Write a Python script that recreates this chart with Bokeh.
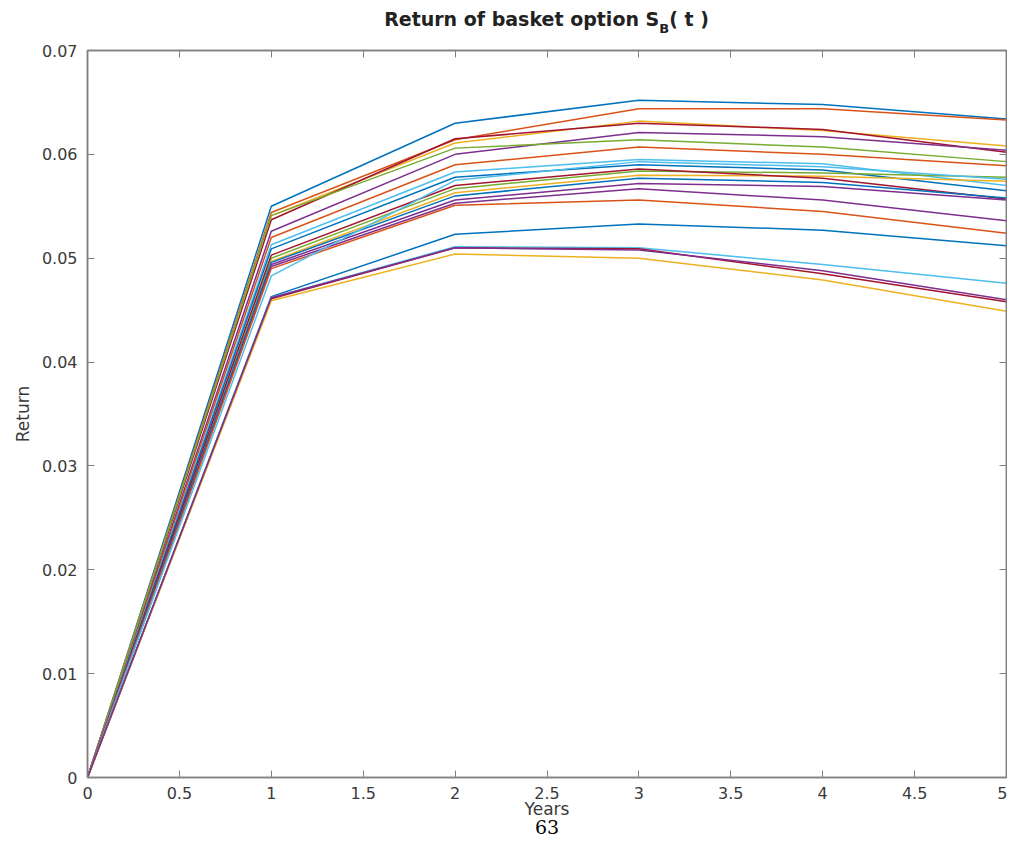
from bokeh.plotting import figure
from bokeh.models import LinearAxis, Range1d, FixedTicker, CustomJSTickFormatter, Title, Div
from bokeh.layouts import column
from bokeh.embed import file_html
from bokeh.resources import INLINE

years = [0, 1, 2, 3, 4, 5]

r01 = [0, 0.0550, 0.0630, 0.0652, 0.0648, 0.0634]
r02 = [0, 0.0544, 0.0614, 0.0644, 0.0644, 0.0633]
r03 = [0, 0.0541, 0.0611, 0.0632, 0.0623, 0.0608]
r04 = [0, 0.0537, 0.0615, 0.0630, 0.0624, 0.0602]
r05 = [0, 0.0526, 0.0600, 0.0621, 0.0617, 0.0604]
r06 = [0, 0.0541, 0.0606, 0.0614, 0.0607, 0.0593]
r07 = [0, 0.0520, 0.0590, 0.0607, 0.0600, 0.0589]
r08 = [0, 0.0513, 0.0583, 0.0595, 0.0591, 0.0570]
r09 = [0, 0.0509, 0.0578, 0.0590, 0.0585, 0.0565]
r10 = [0, 0.0500, 0.0567, 0.0584, 0.0582, 0.0578]
r11 = [0, 0.0497, 0.0563, 0.0580, 0.0579, 0.0574]
r12 = [0, 0.0503, 0.0570, 0.0586, 0.0577, 0.0557]
r13 = [0, 0.0494, 0.0556, 0.0572, 0.0569, 0.0556]
r14 = [0, 0.0496, 0.0560, 0.0577, 0.0573, 0.0558]
r15 = [0, 0.0492, 0.0553, 0.0567, 0.0556, 0.0536]
r16 = [0, 0.0490, 0.0551, 0.0556, 0.0545, 0.0524]
r17 = [0, 0.0483, 0.0575, 0.0593, 0.0588, 0.0576]
r18 = [0, 0.0463, 0.0523, 0.0533, 0.0527, 0.0512]
r19 = [0, 0.0462, 0.0511, 0.0510, 0.0494, 0.0476]
r20 = [0, 0.0461, 0.0510, 0.0509, 0.0485, 0.0458]
r21 = [0, 0.0459, 0.0504, 0.0500, 0.0479, 0.0449]
r22 = [0, 0.0462, 0.0510, 0.0508, 0.0488, 0.0460]

series = [r01, r02, r03, r04, r05, r06, r07, r08, r09, r10, r11,
          r12, r13, r14, r15, r16, r17, r18, r19, r20, r21, r22]

BLUE, ORANGE, YELLOW, PURPLE = "#0072BD", "#D95319", "#EDB120", "#7E2F8E"
GREEN, CYAN, DRED = "#77AC30", "#4DBEEE", "#A2142F"
series_colors = [BLUE, ORANGE, YELLOW, DRED, PURPLE, GREEN, ORANGE, CYAN, BLUE,
                 GREEN, YELLOW, DRED, PURPLE, BLUE, PURPLE, ORANGE, CYAN,
                 BLUE, CYAN, DRED, YELLOW, PURPLE]

x_ticks = [0, 0.5, 1, 1.5, 2, 2.5, 3, 3.5, 4, 4.5, 5]
x_tick_labels = ["0", "0.5", "1", "1.5", "2", "2.5", "3", "3.5", "4", "4.5", "5"]
y_ticks = [0, 0.01, 0.02, 0.03, 0.04, 0.05, 0.06, 0.07]
y_tick_labels = ["0", "0.01", "0.02", "0.03", "0.04", "0.05", "0.06", "0.07"]

title_main = "Return of basket option S"
title_sub = "B"
title_tail = "( t )"
x_label = "Years"
y_label = "Return"
page_number = "63"

AX = "#808080"
TXT = "#3a3a3a"
FONT = "DejaVu Sans"

title_div = Div(
    text=('<div style="margin-left:87px;width:919px;text-align:center;padding-top:8px;'
          'font-family:\'DejaVu Sans\';font-weight:bold;font-size:19px;line-height:22px;'
          'color:#222222;white-space:nowrap">'
          f'{title_main}<span style="font-size:13px;vertical-align:-7px;line-height:0">'
          f'{title_sub}</span>{title_tail}</div>'),
    width=1007, height=42, margin=(0, 0, 0, 0))

p = figure(width=1007, height=794, x_range=Range1d(0, 5), y_range=Range1d(0, 0.07),
           output_backend="svg", toolbar_location=None,
           min_border_left=87, min_border_top=8, min_border_right=1, min_border_bottom=59)
p.grid.visible = False
p.outline_line_color = AX
p.outline_line_width = 1.5
p.background_fill_color = "white"
p.border_fill_color = "white"

for ys, c in zip(series, series_colors):
    p.line(years, ys, line_color=c, line_width=1.5)

xa = p.xaxis[0]
xa.ticker = FixedTicker(ticks=x_ticks)
xa.major_label_overrides = {t: l for t, l in zip(x_ticks, x_tick_labels)}
ya = p.yaxis[0]
ya.ticker = FixedTicker(ticks=y_ticks)
ya.major_label_overrides = {t: l for t, l in zip(y_ticks, y_tick_labels)}
for ax in (xa, ya):
    ax.axis_line_color = AX
    ax.axis_line_width = 1.5
    ax.major_tick_line_color = AX
    ax.major_tick_in = 7
    ax.major_tick_out = 0
    ax.minor_tick_line_color = None
    ax.major_label_text_font = FONT
    ax.major_label_text_font_size = "16px"
    ax.major_label_text_color = TXT
    ax.axis_label_text_font = FONT
    ax.axis_label_text_font_size = "17px"
    ax.axis_label_text_font_style = "normal"
    ax.axis_label_text_color = TXT
xa.major_label_standoff = 9
ya.major_label_standoff = 10
xa.axis_label = x_label
ya.axis_label = y_label
xa.axis_label_standoff = -3
ya.axis_label_standoff = 6

blank = CustomJSTickFormatter(code="return ''")
top = LinearAxis(ticker=FixedTicker(ticks=x_ticks), formatter=blank)
right = LinearAxis(ticker=FixedTicker(ticks=y_ticks), formatter=blank)
for ax in (top, right):
    ax.axis_line_color = AX
    ax.axis_line_width = 1.5
    ax.major_tick_line_color = AX
    ax.major_tick_in = 7
    ax.major_tick_out = 0
    ax.minor_tick_line_color = None
    ax.major_label_standoff = 0
    ax.major_label_text_font_size = "1px"
p.add_layout(top, "above")
p.add_layout(right, "right")

p.add_layout(Title(text=page_number, align="center", text_font="DejaVu Serif",
                   text_font_size="19px", text_font_style="normal", text_color="black",
                   standoff=-8, offset=-6), "below")

layout = column(title_div, p, spacing=0)
open("out.html", "w").write(file_html(layout, INLINE))
